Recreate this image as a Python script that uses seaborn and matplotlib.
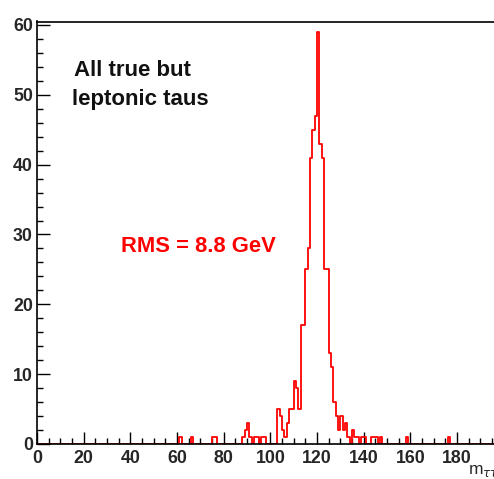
import numpy as np
import pandas as pd
import matplotlib
matplotlib.use("Agg")
import matplotlib.pyplot as plt
from matplotlib.ticker import MultipleLocator
import seaborn as sns

# Non-empty 1 GeV bins (left edge) and their entries
mass_bins = [61, 66, 75, 76, 88, 89, 90, 91, 93, 94, 96, 97,
             103, 104, 105, 106, 107, 108, 109, 110, 111, 112,
             113, 114, 115, 116, 117, 118, 119, 120, 121, 122,
             123, 124, 125, 126, 127, 128, 129, 130, 131, 132,
             133, 135, 136, 137, 139, 140, 143, 144, 145, 147, 158, 176]
entries = [1, 1, 1, 1, 1, 2, 3, 1, 1, 1, 1, 1,
           5, 4, 2, 1, 3, 5, 5, 9, 8, 5,
           17, 17, 25, 28, 41, 45, 47, 59, 43, 41,
           25, 25, 13, 11, 6, 4, 2, 4, 2, 3,
           1, 2, 1, 1, 1, 1, 1, 1, 1, 1, 1, 1]
x_ticks = [0, 20, 40, 60, 80, 100, 120, 140, 160, 180]
y_ticks = [0, 10, 20, 30, 40, 50, 60]

df = pd.DataFrame({"m": np.array(mass_bins) + 0.5, "n": entries})

sns.set_style("ticks")
plt.rcParams["font.family"] = ["Liberation Sans", "DejaVu Sans"]

W, H = 494, 479
fig = plt.figure(figsize=(W / 100, H / 100), dpi=100)
ax = fig.add_axes([37 / W, 35 / H, 466.7 / W, 422.5 / H])

sns.histplot(data=df, x="m", weights="n", bins=200, binrange=(0, 200),
             element="step", fill=False, color="#ff0000", linewidth=1.3, ax=ax)

ax.set_xlim(0, 200)
ax.set_ylim(0, 60.5)
ax.set_xticks(x_ticks)
ax.set_yticks(y_ticks)
ax.xaxis.set_minor_locator(MultipleLocator(5))
ax.yaxis.set_minor_locator(MultipleLocator(2))
ax.tick_params(which="both", direction="in", top=False, right=False, width=1.0, color="black")
ax.tick_params(which="major", length=9, labelsize=12.8)
ax.tick_params(axis="x", which="major", pad=4)
ax.tick_params(axis="y", which="major", pad=3)
ax.tick_params(which="minor", length=4.5)
for lab in ax.get_xticklabels() + ax.get_yticklabels():
    lab.set_fontweight("bold")
for s in ax.spines.values():
    s.set_linewidth(1.2)
    s.set_color("black")
ax.set_xlabel("")
ax.set_ylabel("")

fig.text(74 / W, 1 - 75.7 / H, "All true but", fontsize=16, fontweight="bold",
         va="baseline", ha="left", color="#111111")
fig.text(72 / W, 1 - 105 / H, "leptonic taus", fontsize=16, fontweight="bold",
         va="baseline", ha="left", color="#111111")
fig.text(121 / W, 1 - 251.7 / H, "RMS = 8.8 GeV", fontsize=15.8, fontweight="bold", color="#ff0000",
         va="baseline", ha="left")
fig.text(468 / W, 1 - 474 / H, r"m$_{\tau\tau}$ [GeV]", fontsize=12.5, va="baseline", ha="left")

fig.savefig("out.png", dpi=100)
